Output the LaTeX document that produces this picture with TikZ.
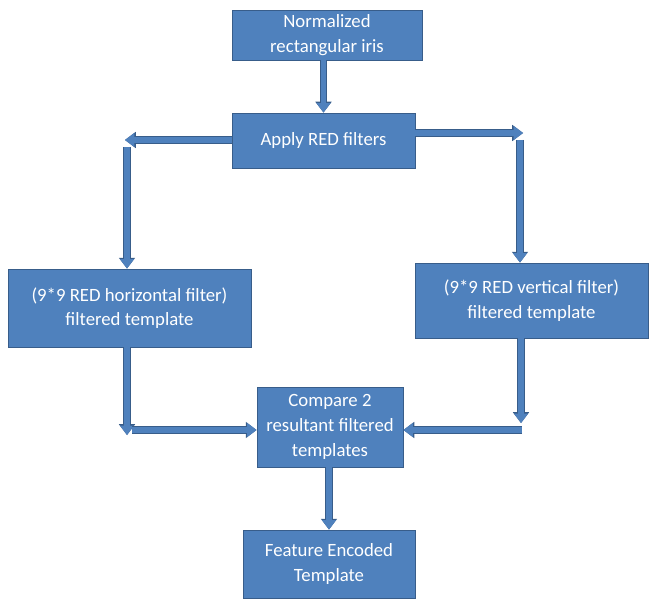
\documentclass[tikz,border=0pt]{standalone}
\usepackage{fontspec}
\setmainfont{Carlito}
\usetikzlibrary{arrows.meta,positioning}
\definecolor{BoxBlue}{HTML}{4F81BD}
\definecolor{BoxEdge}{HTML}{385D8A}

\begin{document}
\begin{tikzpicture}[x=0.03cm,y=-0.03cm,
  stage/.style={draw=BoxEdge,line width=0.8pt,fill=BoxBlue,text=white,font=\fontsize{16}{21}\selectfont,align=center,inner sep=0pt},
  flow/.style={line width=4.4pt,draw=BoxBlue,-{Triangle[length=8pt,width=12pt,line width=0pt]},
    preaction={draw=BoxEdge,line width=6pt,-{Triangle[length=9.2pt,width=14pt,line width=0pt]}}}
]
\useasboundingbox (0,0) rectangle (650,599);

\node[stage,minimum width=5.7cm,minimum height=1.5cm] (iris) at (327,35) {Normalized\\rectangular iris};
\node[stage,minimum width=5.49cm,minimum height=1.65cm] (apply) at (323.5,140.5) {Apply RED filters};
\node[stage,minimum width=7.29cm,minimum height=2.34cm] (horiz) at (129.5,308) {(9*9 RED horizontal filter)\\filtered template};
\node[stage,minimum width=6.99cm,minimum height=2.25cm] (vert) at (531.5,300.5) {(9*9 RED vertical filter)\\filtered template};
\node[stage,minimum width=4.38cm,minimum height=2.4cm] (compare) at (330,427) {Compare 2\\resultant filtered\\templates};
\node[stage,minimum width=5.16cm,minimum height=2.04cm] (encoded) at (329,564) {Feature Encoded\\Template};

\coordinate (lturn) at (125,140);
\coordinate (ltop) at (127,147);
\coordinate (rturn) at (523,133);
\coordinate (rtop) at (520,140);
\coordinate (lbot) at (127,435);
\coordinate (lin) at (132,430);
\coordinate (rbot) at (521,423);
\coordinate (rin) at (522,430);

\draw[flow] (iris.south -| apply.north) -- (apply.north);
\draw[flow] (apply.west |- lturn) -- (lturn);
\draw[flow] (ltop) -- (ltop |- horiz.north);
\draw[flow] (apply.east |- rturn) -- (rturn);
\draw[flow] (rtop) -- (rtop |- vert.north);
\draw[flow] (lbot |- horiz.south) -- (lbot);
\draw[flow] (lin) -- (lin -| compare.west);
\draw[flow] (rbot |- vert.south) -- (rbot);
\draw[flow] (rin) -- (rin -| compare.east);
\draw[flow] (compare.south -| encoded.north) -- (encoded.north);
\end{tikzpicture}
\end{document}
